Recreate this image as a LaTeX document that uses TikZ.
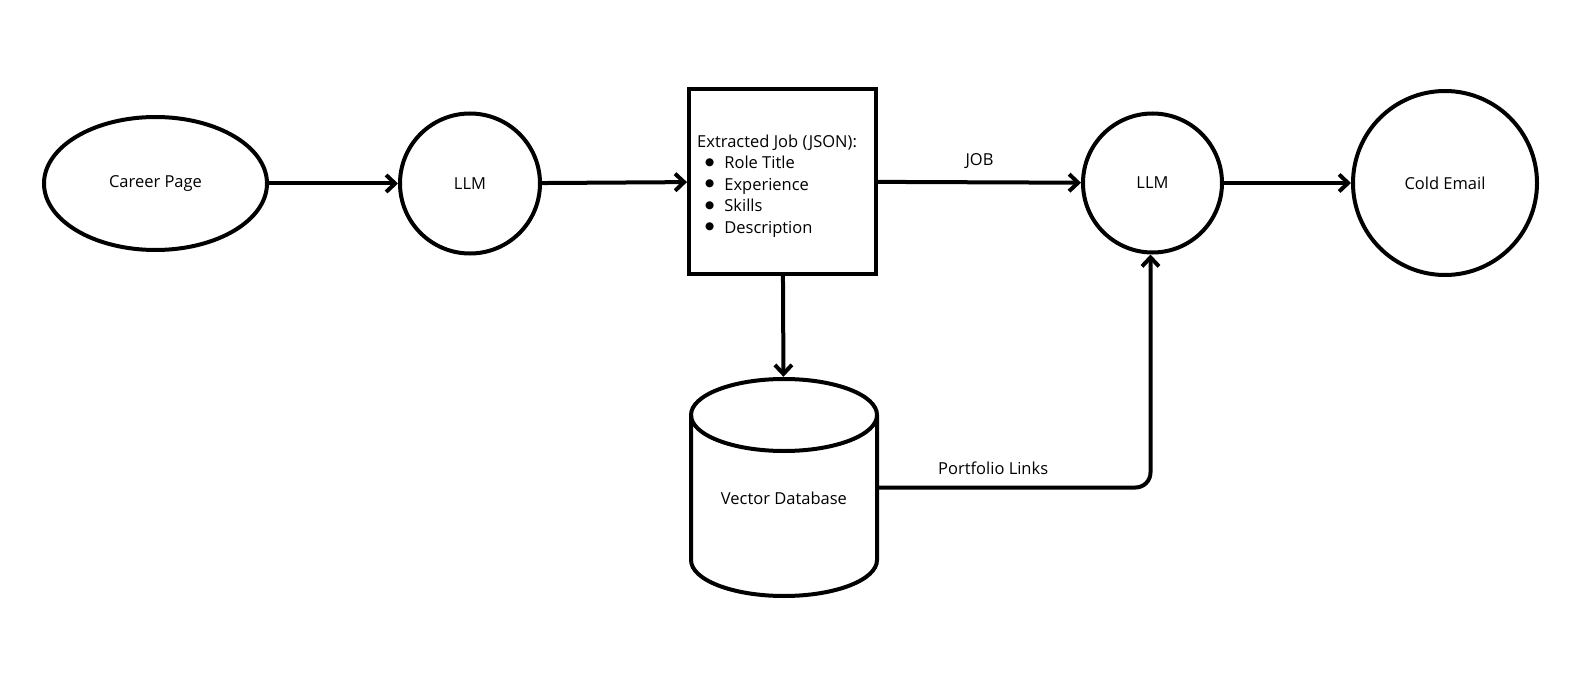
\documentclass[tikz,border=0pt]{standalone}
\usepackage{fontspec}
\setmainfont{Open Sans}
\newfontfamily\dotfont{DejaVu Sans}
\usetikzlibrary{arrows.meta}
\usetikzlibrary{shapes.geometric}
\usetikzlibrary{positioning}
\tikzset{flow/.style = {-{Straight Barb[length=9pt, width=17pt]}, line width=4pt, line cap=round}}
\tikzset{blob/.style = {draw, line width=4pt, inner sep=0, font=\fontsize{16.5}{21.5}\selectfont}}
\tikzset{lbl/.style = {font=\fontsize{16.5}{21.5}\selectfont}}
\newcommand{\jobitem}[1]{\hspace*{8pt}\raisebox{3.5pt}{\dotfont\fontsize{10.5}{10.5}\selectfont ●}\hspace{10pt}#1}

\begin{document}
\begin{tikzpicture}[x=1pt, y=-1pt]
    \useasboundingbox (0, 0) rectangle (1591, 682);

    \node (page) at (155.5, 183.5) [blob, ellipse, minimum width=223pt, minimum height=133pt] {Career Page};
    \node (llm1) at (470, 183.5) [blob, circle, minimum size=140pt] {LLM};
    \node (json) at (782.5, 181.5) [blob, rectangle, minimum width=187pt, minimum height=184pt] {};
    \node (jobtext) at (697, 186) [lbl, anchor=west, inner sep=0, align=left]
      {Extracted Job (JSON):\\ \jobitem{Role Title}\\ \jobitem{Experience}\\ \jobitem{Skills}\\ \jobitem{Description}};
    \node (llm2) at (1152.5, 183) [blob, circle, minimum size=139pt] {LLM};
    \node (email) at (1445, 183) [blob, circle, minimum size=184pt] {Cold Email};

    % database drum
    \node (db) at (784, 487.5) [minimum width=190pt, minimum height=221pt] {};
    \draw [line width=4pt] (691, 415) -- (691, 560) arc [start angle=180, end angle=0, x radius=93, y radius=36] -- (877, 415);
    \draw [line width=4pt] (784, 415) ellipse [x radius=93, y radius=36];
    \node (dbtext) at (784, 498) [lbl] {Vector Database};

    \draw [flow] (page) -- (llm1);
    \draw [flow] (llm1) -- (json);
    \draw [flow] (json) -- node [above=8pt, lbl] {JOB} (llm2);
    \draw [flow] (llm2) -- (email);
    \draw [flow] (json) -- (db);
    \draw [flow, rounded corners=15pt] (db.east) -| node [pos=0.21, above=8pt, lbl] {Portfolio Links} ([xshift=-2pt]llm2.south);
  \end{tikzpicture}
\end{document}
